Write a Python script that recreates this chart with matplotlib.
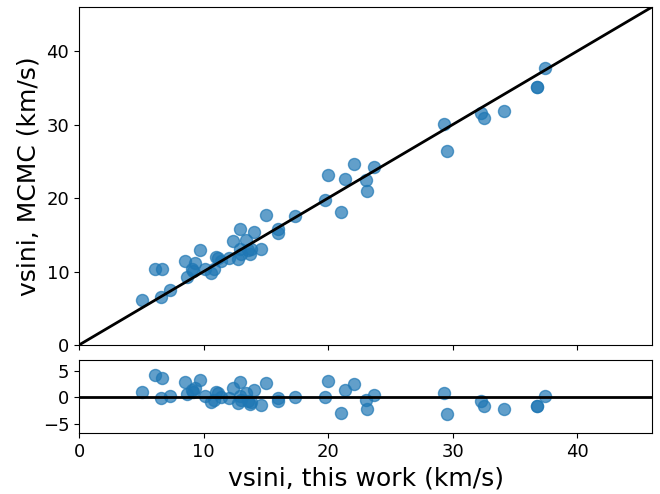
import matplotlib
matplotlib.use('Agg')
import matplotlib.pyplot as plt
import numpy as np

# vsini de este trabajo y de MCMC (km/s)
vsini_work = [5.06, 6.1, 6.67, 6.6, 7.3, 8.49, 8.7, 9.08, 9.16, 9.34,
              9.69, 10.1, 10.63, 10.84, 10.98, 11.16, 11.43, 12.05, 12.37, 12.77,
              12.96, 12.9, 13.04, 13.44, 13.57, 13.7, 13.84, 14.03, 14.6, 15.0,
              15.98, 15.98, 17.37, 19.78, 19.97, 21.07, 21.34, 22.1, 23.0, 23.1,
              23.7, 29.3, 29.58, 32.3, 32.5, 34.08, 36.8, 36.8, 37.4]
vsini_mcmc = [6.1, 10.4, 10.4, 6.55, 7.5, 11.4, 9.3, 10.4, 10.1, 11.1,
              12.9, 10.4, 9.74, 10.3, 12.0, 11.9, 11.4, 11.9, 14.2, 11.7,
              15.8, 13.1, 12.45, 14.3, 12.9, 12.45, 13.0, 15.4, 13.1, 17.7,
              15.85, 15.3, 17.5, 19.8, 23.1, 18.1, 22.65, 24.6, 22.4, 20.9,
              24.2, 30.1, 26.4, 31.56, 30.9, 31.8, 35.1, 35.1, 37.7]

x = np.array(vsini_work)
y = np.array(vsini_mcmc)
res = y - x

lim = 46

fig = plt.figure(figsize=(6.6, 4.94), dpi=100)
ax1 = fig.add_axes([0.1197, 0.3016, 0.8682, 0.6842])
ax2 = fig.add_axes([0.1197, 0.1235, 0.8682, 0.1478], sharex=ax1)

ax1.scatter(x, y, s=75, alpha=0.7, color='C0')
ax1.plot([0, lim], [0, lim], color='k', lw=2)
ax1.set_xlim(0, lim)
ax1.set_ylim(0, lim)
ax1.set_ylabel('vsini, MCMC (km/s)', fontsize=18)
ax1.tick_params(labelsize=13, labelbottom=False)

ax2.scatter(x, res, s=75, alpha=0.7, color='C0')
ax2.axhline(0, color='k', lw=2)
ax2.set_ylim(-6.8, 7.1)
ax2.set_yticks([-5, 0, 5])
ax2.set_xlabel('vsini, this work (km/s)', fontsize=18)
ax2.tick_params(labelsize=13)

fig.savefig('out.png', dpi=100)
